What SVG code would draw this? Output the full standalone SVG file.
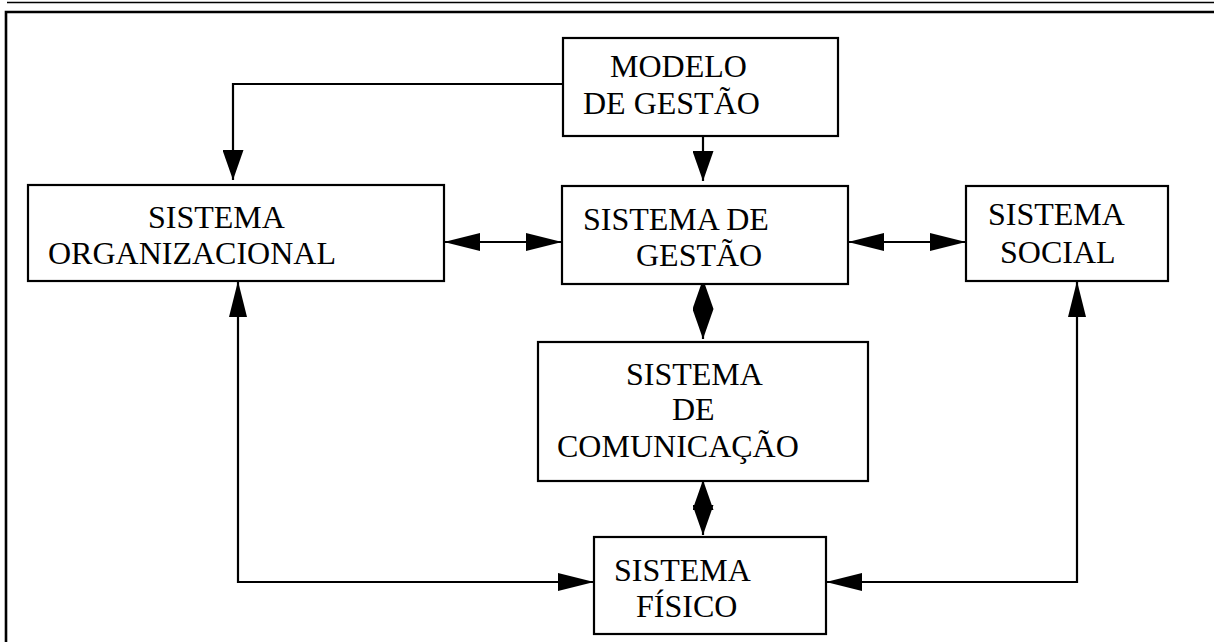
<svg xmlns="http://www.w3.org/2000/svg" width="1214" height="642" viewBox="0 0 1214 642">
<style>
.box{fill:#fff;stroke:#000;stroke-width:2.2}
.t{font-family:"Liberation Serif","Times New Roman",serif;font-size:32px;fill:#000}
.c{fill:none;stroke:#000;stroke-width:2.2}
</style>
<defs>
<marker id="h" viewBox="0 0 36 18" refX="36" refY="9" markerWidth="36" markerHeight="18" markerUnits="userSpaceOnUse" orient="auto-start-reverse"><path d="M0,0 L36,9 L0,18 z" fill="#000"/></marker>
<marker id="v" viewBox="0 0 30 21" refX="30" refY="10.5" markerWidth="30" markerHeight="21" markerUnits="userSpaceOnUse" orient="auto-start-reverse"><path d="M0,0 L30,10.5 L0,21 z" fill="#000"/></marker>
</defs>
<g id="frame">
<path d="M7,2.5 H1214" stroke="#000" stroke-width="1.6" fill="none"/>
<path d="M6,642 V12 H1214" stroke="#000" stroke-width="2.6" fill="none"/>
</g>
<g id="connectors">
<path class="c" d="M563,84 H233 V180" marker-end="url(#v)"/>
<path class="c" d="M703,136 V181" marker-end="url(#v)"/>
<path class="c" d="M444,242 H562" marker-start="url(#h)" marker-end="url(#h)"/>
<path class="c" d="M848,242 H966" marker-start="url(#h)" marker-end="url(#h)"/>
<path class="c" d="M703,279 V339" marker-start="url(#v)" marker-end="url(#v)"/>
<path class="c" d="M703,480 V535" marker-start="url(#v)" marker-end="url(#v)"/>
<path class="c" d="M238,281 V582 H594" marker-start="url(#h)" marker-end="url(#h)"/>
<path class="c" d="M1077,281 V582 H826" marker-start="url(#h)" marker-end="url(#h)"/>
</g>
<g id="modelo">
<rect class="box" x="563" y="38" width="275" height="98"/>
<text class="t" x="610" y="77">MODELO</text>
<text class="t" x="583" y="114">DE GESTÃO</text>
</g>
<g id="organizacional">
<rect class="box" x="28" y="185" width="416" height="96"/>
<text class="t" x="148" y="228">SISTEMA</text>
<text class="t" x="48" y="264">ORGANIZACIONAL</text>
</g>
<g id="gestao">
<rect class="box" x="562" y="186" width="286" height="98"/>
<text class="t" x="583" y="230">SISTEMA DE</text>
<text class="t" x="636" y="266">GESTÃO</text>
</g>
<g id="social">
<rect class="box" x="966" y="186" width="202" height="95"/>
<text class="t" x="988" y="225">SISTEMA</text>
<text class="t" x="1000" y="263">SOCIAL</text>
</g>
<g id="comunicacao">
<rect class="box" x="538" y="342" width="330" height="139"/>
<text class="t" x="626" y="385">SISTEMA</text>
<text class="t" x="672" y="420">DE</text>
<text class="t" x="557" y="457">COMUNICAÇÃO</text>
</g>
<g id="fisico">
<rect class="box" x="594" y="537" width="232" height="97"/>
<text class="t" x="614" y="581">SISTEMA</text>
<text class="t" x="636" y="617">FÍSICO</text>
</g>
</svg>
